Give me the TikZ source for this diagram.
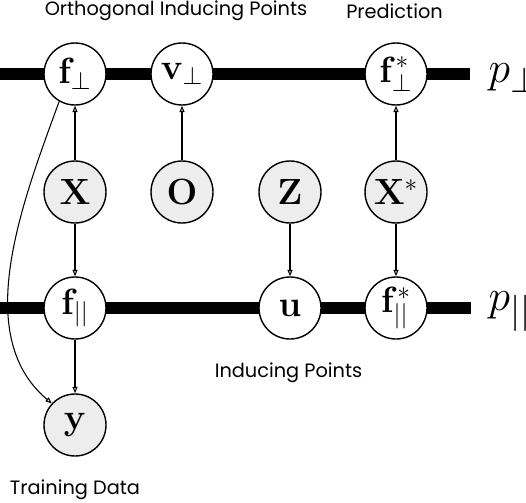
\documentclass[tikz,border=0pt]{standalone}
\usepackage[no-math]{fontspec}
\newfontfamily\captionfont{Poppins}
\usetikzlibrary{arrows.meta}
\begin{document}
\begin{tikzpicture}[line width=0.8pt,
  latent/.style={circle, draw, fill=white, minimum size=1.24cm, inner sep=0pt, font=\huge},
  obs/.style={latent, fill=black!7},
  dep/.style={line width=0.6pt, -{Triangle[open, length=3.6pt, width=2.8pt]}},
  layer/.style={line width=6.8pt},
  caption/.style={font=\captionfont\fontsize{11}{13}\selectfont}]
  \useasboundingbox (0,0) rectangle (10.52,10.04);
  % Thick layers for p_perp (top) and p_par (bottom)
  \coordinate (topL) at (0,8.56);
  \coordinate (topR) at (9.40,8.56);
  \coordinate (botL) at (0,3.88);
  \coordinate (botR) at (9.42,3.88);
  \draw[layer] (topL) -- (topR);
  \draw[layer] (botL) -- (botR);
  \node[anchor=west, inner sep=0pt, font=\Huge] (pperp) at (9.76,8.48) {$p_\perp$};
  \node[anchor=west, inner sep=0pt, font=\Huge] (ppar) at (9.76,3.80) {$p_{||}$};
  % Top row
  \node[latent] (fperp) at (1.50,8.56) {$\mathbf{f}_\perp$};
  \node[latent] (vperp) at (3.64,8.56) {$\mathbf{v}_\perp$};
  \node[latent] (fsperp) at (7.92,8.56) {$\mathbf{f}^*_\perp$};
  % Inputs
  \node[obs] (X) at (1.50,6.20) {$\mathbf{X}$};
  \node[obs] (O) at (3.64,6.20) {$\mathbf{O}$};
  \node[obs] (Z) at (5.80,6.20) {$\mathbf{Z}$};
  \node[obs] (Xs) at (7.92,6.20) {$\mathbf{X}^*$};
  % Bottom row
  \node[latent] (fpar) at (1.50,3.88) {$\mathbf{f}_{||}$};
  \node[latent] (u) at (5.80,3.88) {$\mathbf{u}$};
  \node[latent] (fspar) at (7.92,3.88) {$\mathbf{f}^*_{||}$};
  \node[obs] (y) at (1.50,1.54) {$\mathbf{y}$};
  % Dependencies
  \draw[dep] (X) -- (fperp);
  \draw[dep] (O) -- (vperp);
  \draw[dep] (Xs) -- (fsperp);
  \draw[dep] (X) -- (fpar);
  \draw[dep] (Z) -- (u);
  \draw[dep] (Xs) -- (fspar);
  \draw[dep] (fpar) -- (y);
  \draw[dep] (fperp.240) to[out=250, in=140, looseness=0.9] (y.137);
  % Captions
  \node[caption] (capO) at (3.52,9.82) {Orthogonal Inducing Points};
  \node[caption] (capP) at (7.89,9.82) {Prediction};
  \node[caption] (capI) at (5.77,2.58) {Inducing Points};
  \node[caption] (capT) at (1.50,0.24) {Training Data};
\end{tikzpicture}
\end{document}
